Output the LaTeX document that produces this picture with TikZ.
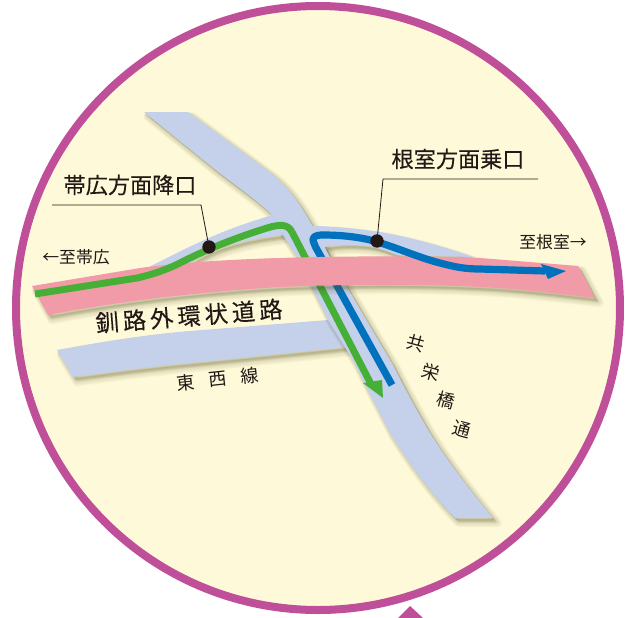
\documentclass[tikz,border=0pt]{standalone}
\usepackage{fontspec}
\newfontfamily\cjk{Noto Sans CJK JP}
\newfontfamily\cjkm[FakeBold=0.25]{Noto Sans CJK JP}
\definecolor{cream}{HTML}{FEFAD9}
\definecolor{ringc}{HTML}{BE4F98}
\definecolor{roadc}{HTML}{C5D0EA}
\definecolor{pinkc}{HTML}{F29BA8}
\definecolor{greenc}{HTML}{45B035}
\definecolor{bluec}{HTML}{0071BC}
\definecolor{inkc}{HTML}{231815}
\definecolor{shadec}{HTML}{5E5A2E}
\tikzset{
  px/.style={x=0.75pt,y=-0.75pt},
  roadfill/.style={fill=roadc,draw=none},
  pinkfill/.style={fill=pinkc,draw=none},
  greenline/.style={draw=greenc,line width=5.2pt,line join=round},
  blueline/.style={draw=bluec,line width=5.4pt,line join=round},
  leader/.style={draw=inkc,line width=0.6pt},
  dot/.style={circle,fill=inkc,inner sep=0pt,minimum size=10pt},
  big/.style={font=\cjkm\fontsize{16.6}{17}\selectfont,text=inkc,inner sep=0pt},
  mid/.style={font=\cjk\fontsize{12.6}{13}\selectfont,text=inkc,inner sep=0pt},
  sml/.style={font=\cjk\fontsize{13.5}{14}\selectfont,text=inkc,inner sep=0pt},
  bld/.style={font=\cjkm\fontsize{17.5}{18}\selectfont,text=inkc,inner sep=0pt},
}
\newcommand{\blurshadow}[1]{%
  \foreach \w/\sx/\sy in {7/3.2/3.6,6/3.0/3.4,5/2.8/3.2,4/2.5/2.9,3/2.2/2.6,2/1.9/2.2,1/1.6/1.8,0.2/1.2/1.4}{
    \path[fill=shadec,draw=shadec,line width=\w pt,line join=round,opacity=0.035,xshift=\sx pt,yshift=-\sy pt] #1;
  }}
\newcommand{\softshadow}[1]{\blurshadow{#1}\path[roadfill] #1;}
\newcommand{\ewroad}{(57,350) .. controls (100,342) and (150,334) .. (190,331) -- (328,320) -- (347,347) -- (200,362) .. controls (155,366) and (110,372) .. (73,377) -- cycle}
\newcommand{\nsroad}{(144,112) -- (188,112) -- (267,170) .. controls (285,183) and (298,200) .. (312,225) -- (347,287) -- (393,365) .. controls (403,385) and (412,402) .. (427,428) .. controls (445,458) and (470,490) .. (493,518) -- (455,518) .. controls (432,495) and (410,465) .. (390,433) .. controls (378,410) and (365,385) .. (353,360) -- (328,320) -- (297,257) -- (283,235) -- (272,215) .. controls (255,198) and (230,182) .. (207,163) -- cycle}
\newcommand{\leftramp}{(147,268) .. controls (165,259) and (182,250) .. (200,242) .. controls (225,230) and (250,222) .. (272,215) -- (283,235) .. controls (255,238) and (235,243) .. (220,248) .. controls (208,252) and (198,258) .. (190,263) -- cycle}
\newcommand{\rightramp}{(310,226) .. controls (335,226) and (360,229) .. (380,232) .. controls (410,237) and (445,247) .. (473,257) -- (397,255) .. controls (385,250) and (375,247) .. (367,246) .. controls (350,244) and (335,245) .. (325,247) -- (327,256) -- cycle}
\newcommand{\pinkshape}{(32,286) -- (140,268) .. controls (190,261) and (260,258) .. (320,257) .. controls (380,256) and (430,256) .. (480,258) -- (578,266) -- (595,298) .. controls (560,294) and (520,289) .. (480,287) .. controls (420,284) and (350,284) .. (280,287) .. controls (200,292) and (120,301) .. (48,315) -- cycle}
\begin{document}
\begin{tikzpicture}[px]
\useasboundingbox (0,0) rectangle (626,618);
\path[fill=white] (0,0) rectangle (626,618);
% ring
\path[fill=cream,draw=ringc,line width=6pt] (318,308) circle [radius=302];
\path[fill=ringc] (410,606) -- (423,618) -- (398,618) -- cycle;
% roads
\softshadow{\ewroad}
\blurshadow{\nsroad}
\blurshadow{\leftramp}
\blurshadow{\rightramp}
\path[roadfill] \nsroad;
\path[roadfill] \leftramp;
\path[roadfill] \rightramp;
% route parts that pass under the pink road
\draw[greenline] (292,232) -- (371,384);
\path[fill=greenc] (363,383) -- (382,380) -- (383,398) -- cycle;
\draw[blueline] (314,243) .. controls (315,247) and (318,251) .. (320,255) -- (392,385);
% pink road
\blurshadow{\pinkshape}
\path[pinkfill] \pinkshape;
% route parts on top
\draw[greenline] (35,294) -- (137,278) .. controls (155,274) and (170,268) .. (180,263) .. controls (205,250) and (235,238) .. (267,228) .. controls (280,224) and (288,224) .. (292,232);
\draw[blueline] (314,243) .. controls (311,237) and (315,235) .. (323,235) .. controls (345,235) and (365,238) .. (377,242) .. controls (395,247) and (420,258) .. (440,263) .. controls (455,267) and (465,269) .. (480,269) -- (545,271);
\path[fill=bluec] (541,264) -- (566,271) -- (548,279) -- cycle;
% marks and leaders
\node[dot] (obihiroexit) at (209,247) {};
\node[dot] (nemuroentry) at (377,241) {};
\coordinate (a1) at (201,205);
\coordinate (a2) at (52,205);
\coordinate (b1) at (383,179);
\coordinate (b2) at (538,179);
\draw[leader] (obihiroexit.center) -- (a1) -- (a2);
\draw[leader] (nemuroentry.center) -- (b1) -- (b2);
% labels
\node[big] (t1) at (130,185) {帯広方面降口};
\node[big] (t2) at (458,159) {根室方面乗口};
\node[mid] (t3) at (76,257) {←至帯広};
\node[mid] (t4) at (553,242) {至根室→};
\node[bld,rotate=4.5] (t5) at (189,316) {釧\kern3pt 路\kern3pt 外\kern3pt 環\kern3pt 状\kern3pt 道\kern3pt 路};
\node[sml,rotate=6] (t6) at (218,379) {東\kern10.5pt 西\kern10.5pt 線};
\node[sml,rotate=-15] (c1) at (416,343) {共};
\node[sml,rotate=-15] (c2) at (431,372) {栄};
\node[sml,rotate=-15] (c3) at (446,400) {橋};
\node[sml,rotate=-15] (c4) at (462,429) {通};
\end{tikzpicture}
\end{document}
